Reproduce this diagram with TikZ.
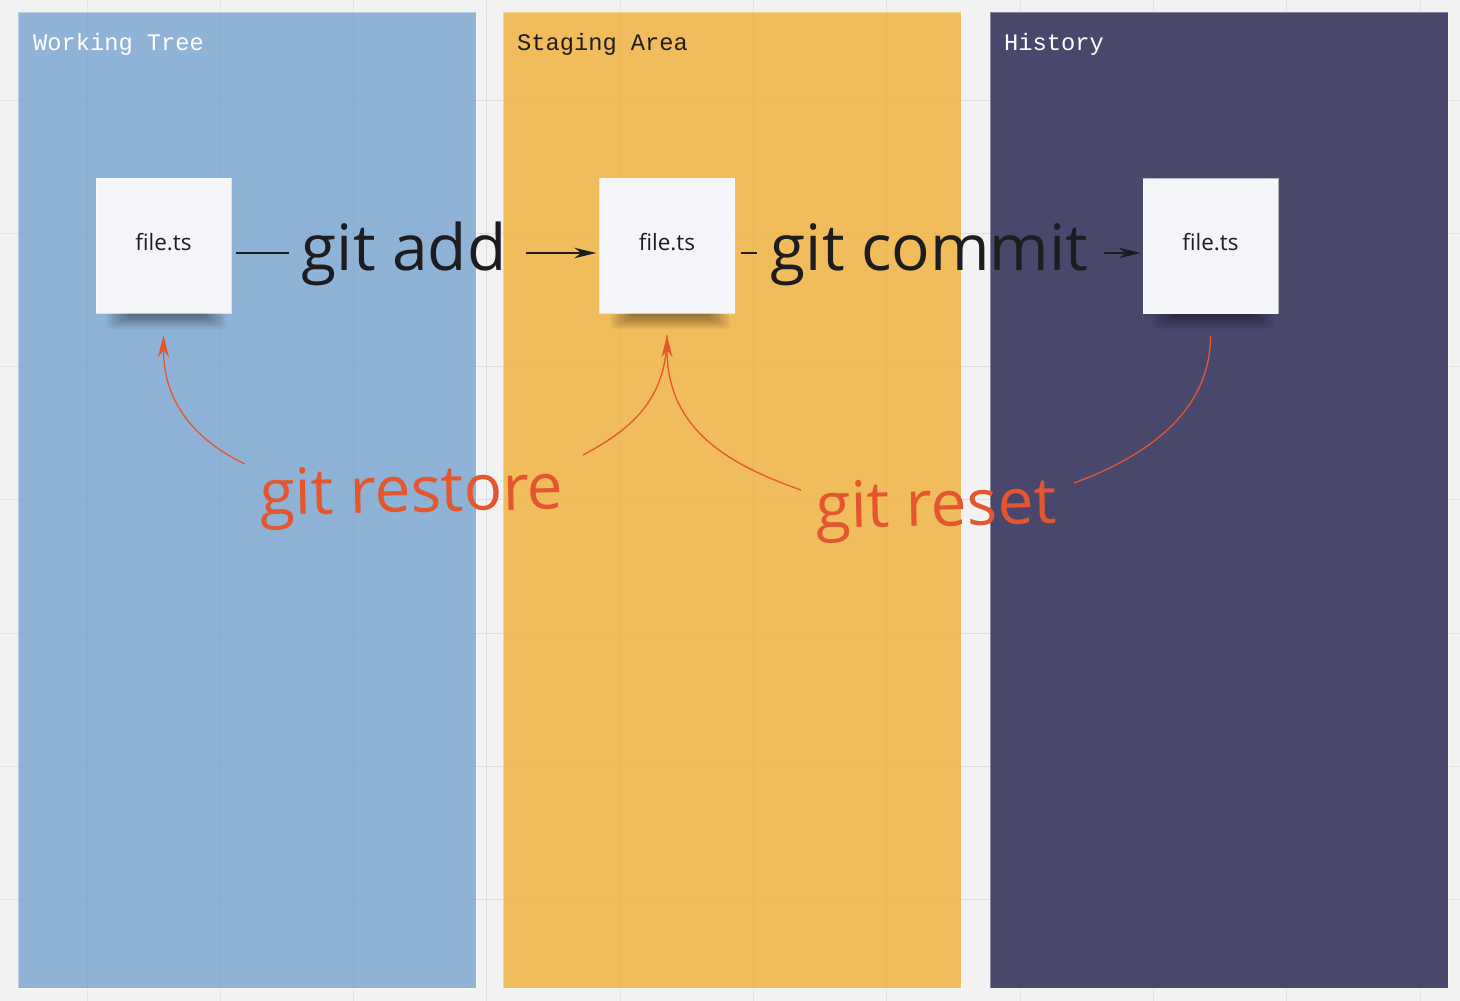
\documentclass[tikz,border=0pt]{standalone}
\usepackage{fontspec}
\setmainfont{Open Sans}
\newfontfamily\monof{Liberation Mono}
\usetikzlibrary{arrows.meta,calc}
\definecolor{bg}{HTML}{F2F2F2}
\definecolor{gridc}{HTML}{E4E4E4}
\definecolor{pblue}{HTML}{8FB3D6}
\definecolor{pyellow}{HTML}{F1BC5B}
\definecolor{ppurple}{HTML}{4A476C}
\definecolor{notec}{HTML}{F4F5F8}
\definecolor{ink}{HTML}{1D1D1F}
\definecolor{org}{HTML}{E4572E}
\begin{document}
\begin{tikzpicture}[x=1pt,y=-1pt,
  panel/.style={draw=white,draw opacity=0.35,line width=0.8pt},
  ptitle/.style={anchor=base west,inner sep=0pt,font=\monof\fontsize{23.7}{26}\selectfont},
  note/.style={fill=notec,draw=white,draw opacity=0.6,line width=0.5pt,minimum width=135pt,minimum height=135pt,inner sep=0pt},
  ftext/.style={anchor=base,inner sep=0pt,text=ink,font=\fontsize{22.5}{26}\selectfont},
  cmd/.style={anchor=base,inner sep=0pt,text=ink,font=\fontsize{64}{70}\selectfont},
  ocmd/.style={anchor=base,inner sep=0pt,text=org,font=\fontsize{64}{70}\selectfont,rotate=1.2},
  blk/.style={draw=ink,line width=1.2pt},
  blkarrow/.style={blk,-{Stealth[length=22pt,width=10.5pt,inset=7pt]}},
  orng/.style={draw=org,line width=1.3pt},
  otip/.style={{Stealth[length=22pt,width=11pt,inset=7pt]}-}
]
\useasboundingbox (0,0) rectangle (1460,1001);
% background and grid
\fill[bg] (0,0) rectangle (1460,1001);
\foreach \i in {0,...,10} {\draw[gridc,line width=1pt] ({87+133.33*\i},0) -- ({87+133.33*\i},1001);}
\foreach \j in {0,...,6} {\draw[gridc,line width=1pt] (0,{100+133.33*\j}) -- (1460,{100+133.33*\j});}
% panels
\path[panel,fill=pblue] (18,12) rectangle (476,988);
\path[panel,fill=pyellow] (503,12) rectangle (961,988);
\path[panel,fill=ppurple] (990,12) rectangle (1448,988);
% faint grid over panels
\begin{scope}[black,opacity=0.022,line width=1pt]
\foreach \i in {0,...,10} {\draw ({87+133.33*\i},12) -- ({87+133.33*\i},988);}
\foreach \j in {0,...,6} {\draw (18,{100+133.33*\j}) -- (1448,{100+133.33*\j});}
\end{scope}
% titles
\node[ptitle,text=white] (tw) at (33,50) {Working Tree};
\node[ptitle,text=ink] (ts) at (517,50) {Staging Area};
\node[ptitle,text=white] (th) at (1004,50) {History};
% soft shadows under the notes
\foreach \xa/\xb in {106/226, 610/730, 1152/1274} {
  \foreach \k in {0,...,9} {
    \fill[black,opacity=0.045,rounded corners=4pt] ({\xa+2.5*\k},313) rectangle ({\xb-2.5*\k},{329-1.5*\k});
  }
}
% notes
\node[note] (n1) at (163.5,245.5) {};
\node[note] (n2) at (667,245.5) {};
\node[note] (n3) at (1210.5,246) {};
\node[ftext] (t1) at ($(n1.center)+(0,4.5)$) {file.ts};
\node[ftext] (t2) at ($(n2.center)+(0,4.5)$) {file.ts};
\node[ftext] (t3) at ($(n3.center)+(0,4)$) {file.ts};
% command labels
\node[cmd] (add) at (404,270) {git add};
\node[cmd] (commit) at (929.5,270) {git commit};
\node[ocmd] (restore) at (412,512) {git restore};
\node[ocmd] (reset) at (936.5,526) {git reset};
% connector end points beside the labels
\coordinate (addL) at (289,253);
\coordinate (addR) at (526,253);
\coordinate (comL) at (757,253);
\coordinate (comR) at (1104,253);
\coordinate (rsL) at (245,464);
\coordinate (rsR) at (583,455);
\coordinate (rtL) at (801,490);
\coordinate (rtR) at (1074,483);
\coordinate (p1) at ($(n1.south)+(0,22)$);
\coordinate (p2) at ($(n2.south)+(0,22)$);
\coordinate (p3) at ($(n3.south)+(0,22)$);
% black connectors
\draw[blk] ($(n1.east)+(5,7.5)$) -- (addL);
\draw[blkarrow] (addR) -- ($(n2.west)+(-3,7.5)$);
\draw[blk] ($(n2.east)+(6,7.5)$) -- (comL);
\draw[blkarrow] (comR) -- ($(n3.west)+(-2,7)$);
% orange connectors
\draw[orng] (p2) .. controls +(0,65) and +(47,-25) .. (rsR);
\draw[orng,otip] (p1) .. controls +(0,75) and +(-40,-19) .. (rsL);
\draw[orng,otip] (p2) .. controls +(0,95) and +(-71,-25) .. (rtL);
\draw[orng] (rtR) .. controls +(76,-28) and +(0,74) .. (p3);
\end{tikzpicture}
\end{document}
